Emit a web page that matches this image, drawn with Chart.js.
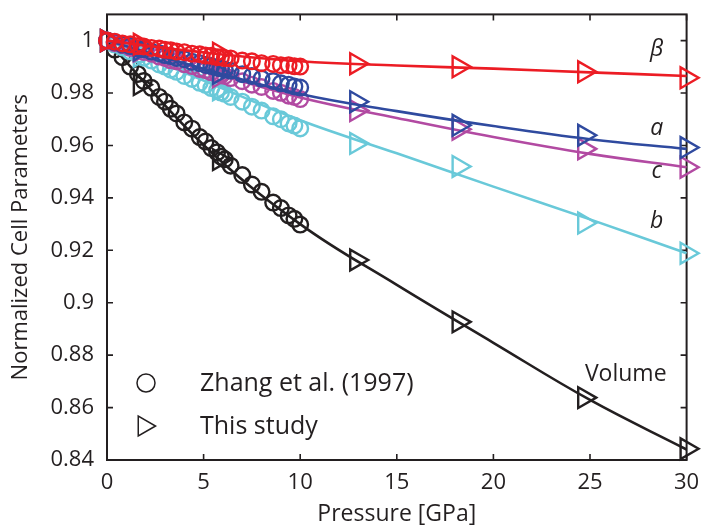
<!DOCTYPE html>
<html><head><meta charset="utf-8">
<script src="https://cdn.jsdelivr.net/npm/chart.js@4.4.1/dist/chart.umd.min.js"></script>
<style>html,body{margin:0;padding:0;background:#fff;}#wrap{width:701px;height:529px;}</style>
</head><body><div id="wrap"><canvas id="c" width="701" height="529"></canvas></div>
<script>
// ---- Data ----
const zhangP = [0, 0.4, 0.8, 1.2, 1.6, 1.9, 2.3, 2.7, 3.0, 3.3, 3.6, 4.0, 4.4, 4.8, 5.1, 5.4, 5.7, 5.9, 6.1, 6.4, 7.0, 7.5, 8.0, 8.6, 9.0, 9.4, 9.7, 10.0];
const zhangBeta = [1.0, 0.9996, 0.9989, 0.9986, 0.9979, 0.9978, 0.9972, 0.9970, 0.9965, 0.9963, 0.9958, 0.9956, 0.9950, 0.9948, 0.9943, 0.9942, 0.9937, 0.9937, 0.9933, 0.9932, 0.9924, 0.9921, 0.9914, 0.9911, 0.9906, 0.9906, 0.9902, 0.9901];
const zhangA    = [1.0, 0.9994, 0.9985, 0.9979, 0.9970, 0.9967, 0.9958, 0.9952, 0.9945, 0.9941, 0.9934, 0.9929, 0.9919, 0.9914, 0.9907, 0.9903, 0.9896, 0.9894, 0.9889, 0.9885, 0.9872, 0.9865, 0.9855, 0.9846, 0.9837, 0.9832, 0.9825, 0.9821];
const zhangC    = [1.0, 0.9990, 0.9983, 0.9972, 0.9965, 0.9957, 0.9950, 0.9939, 0.9934, 0.9925, 0.9921, 0.9910, 0.9903, 0.9892, 0.9887, 0.9879, 0.9874, 0.9868, 0.9865, 0.9857, 0.9845, 0.9832, 0.9823, 0.9808, 0.9801, 0.9790, 0.9785, 0.9777];
const zhangB    = [1.0, 0.9985, 0.9974, 0.9959, 0.9947, 0.9935, 0.9924, 0.9909, 0.9901, 0.9889, 0.9881, 0.9865, 0.9854, 0.9839, 0.9831, 0.9819, 0.9811, 0.9802, 0.9797, 0.9785, 0.9767, 0.9748, 0.9733, 0.9711, 0.9700, 0.9684, 0.9676, 0.9665];
const zhangV    = [1.0, 0.9966, 0.9937, 0.9901, 0.9873, 0.9846, 0.9820, 0.9785, 0.9767, 0.9740, 0.9722, 0.9688, 0.9664, 0.9632, 0.9615, 0.9590, 0.9574, 0.9557, 0.9547, 0.9523, 0.9487, 0.9451, 0.9423, 0.9382, 0.9361, 0.9333, 0.9320, 0.9298];

const studyP    = [0, 1.7, 5.8, 12.9, 18.2, 24.7, 30.0];
const studyBeta = [1.0, 0.9986, 0.9952, 0.9912, 0.9900, 0.9881, 0.9858];
const studyA    = [1.0, 0.9964, 0.9875, 0.9767, 0.9677, 0.9639, 0.9592];
const studyC    = [1.0, 0.9960, 0.9862, 0.9733, 0.9662, 0.9587, 0.9517];
const studyB    = [1.0, 0.9940, 0.9812, 0.9608, 0.9520, 0.9304, 0.9189];
const studyV    = [1.0, 0.9832, 0.9546, 0.9163, 0.8927, 0.8638, 0.8443];

// fitted curves
const fitP    = [0, 5, 10, 15, 20, 25, 30];
const fitBeta = [1.0, 0.9955, 0.9921, 0.9905, 0.9893, 0.9879, 0.9865];
const fitA    = [1.0, 0.9893, 0.9796, 0.9731, 0.9674, 0.9624, 0.9587];
const fitC    = [1.0, 0.9888, 0.9783, 0.9705, 0.9632, 0.9568, 0.9517];
const fitB    = [1.0, 0.9848, 0.9696, 0.9570, 0.9443, 0.9318, 0.9189];
const fitV    = [1.0, 0.9602, 0.9300, 0.9068, 0.8847, 0.8629, 0.8440];

const xTicks = [0, 5, 10, 15, 20, 25, 30];
const yTicks = [0.84, 0.86, 0.88, 0.9, 0.92, 0.94, 0.96, 0.98, 1.0];
const yTickLabels = ['0.84', '0.86', '0.88', '0.9', '0.92', '0.94', '0.96', '0.98', '1'];

const labelNames = ['\u03B2', 'a', 'c', 'b', 'Volume'];
const labelP     = [28.45, 28.45, 28.45, 28.45, 26.85];
const labelVal   = [0.9967, 0.9664, 0.9500, 0.9310, 0.8728];

const legendNames = ['Zhang et al. (1997)', 'This study'];

// ---- Styles ----
const RED = '#ec1c24', BLUE = '#2f4a9f', MAG = '#b24aa2', CYAN = '#69c9d9', BLACK = '#231f20';
const FONT = '"Open Sans", "Noto Sans", sans-serif';
const NONE = 'rgba(0,0,0,0)';

function pts(xs, ys) { return xs.map((x, i) => ({x: x, y: ys[i]})); }
function fit(ys, color) {
  return { data: pts(fitP, ys), showLine: true, borderColor: color, backgroundColor: NONE,
    borderWidth: 2.6, pointRadius: 0, tension: 0.4, clip: false };
}
function study(ys, color) {
  return { data: pts(studyP, ys), showLine: false, borderColor: color, backgroundColor: NONE,
    pointStyle: 'triangle', rotation: 90, pointRadius: 12, pointBorderWidth: 2.4,
    pointBorderColor: color, pointBackgroundColor: NONE, clip: false };
}
function zhang(ys, color) {
  return { data: pts(zhangP, ys), showLine: false, borderColor: color, backgroundColor: NONE,
    pointStyle: 'circle', pointRadius: 7.8, pointBorderWidth: 2.4, pointBorderColor: color,
    pointBackgroundColor: NONE, clip: false };
}

const frame = {
  id: 'frame',
  beforeDatasetsDraw(chart) {
    const {ctx, chartArea: a, scales: {x, y}} = chart;
    ctx.save();
    ctx.strokeStyle = BLACK; ctx.lineWidth = 1.6;
    const tl = 6;
    ctx.beginPath();
    xTicks.forEach(v => { const px = x.getPixelForValue(v);
      ctx.moveTo(px, a.bottom); ctx.lineTo(px, a.bottom - tl);
      ctx.moveTo(px, a.top); ctx.lineTo(px, a.top + tl); });
    yTicks.forEach(v => { const py = y.getPixelForValue(v);
      ctx.moveTo(a.left, py); ctx.lineTo(a.left + tl, py);
      ctx.moveTo(a.right, py); ctx.lineTo(a.right - tl, py); });
    ctx.stroke();
    ctx.lineWidth = 2;
    ctx.strokeRect(a.left, a.top, a.right - a.left, a.bottom - a.top);
    ctx.restore();
  },
  afterDraw(chart) {
    const {ctx, scales: {x, y}} = chart;
    ctx.save();
    ctx.fillStyle = BLACK;
    ctx.textBaseline = 'middle';
    ctx.textAlign = 'center';
    labelNames.forEach((t, i) => {
      ctx.font = (t === 'Volume' ? '23px ' : 'italic 23px ') + FONT;
      ctx.fillText(t, x.getPixelForValue(labelP[i]), y.getPixelForValue(labelVal[i]));
    });
    // legend
    const lx = 146, ly1 = 383, ly2 = 426, tx = 200;
    ctx.strokeStyle = BLACK; ctx.lineWidth = 1.5;
    ctx.beginPath(); ctx.arc(lx, ly1, 9, 0, Math.PI * 2); ctx.stroke();
    ctx.fillStyle = NONE;
    Chart.helpers.drawPoint(ctx, {pointStyle: 'triangle', rotation: 90, radius: 11.5, borderWidth: 1.5}, lx - 2, ly2);
    ctx.fillStyle = BLACK;
    ctx.textAlign = 'left';
    ctx.font = '25px ' + FONT;
    ctx.fillText(legendNames[0], tx, ly1 + 1);
    ctx.fillText(legendNames[1], tx, ly2 + 1);
    ctx.restore();
  }
};

function noPad(s) { s.paddingTop = 0; s.paddingBottom = 0; s.paddingLeft = 0; s.paddingRight = 0; }

new Chart(document.getElementById('c'), {
  type: 'scatter',
  data: { datasets: [
    study(studyBeta, RED), zhang(zhangBeta, RED), fit(fitBeta, RED),
    study(studyA, BLUE), zhang(zhangA, BLUE), fit(fitA, BLUE),
    study(studyC, MAG), zhang(zhangC, MAG), fit(fitC, MAG),
    study(studyB, CYAN), zhang(zhangB, CYAN), fit(fitB, CYAN),
    study(studyV, BLACK), zhang(zhangV, BLACK), fit(fitV, BLACK)
  ]},
  options: {
    responsive: false, animation: false, devicePixelRatio: 1,
    layout: { padding: { top: 7, right: 13, left: 0, bottom: 0 } },
    plugins: { legend: { display: false }, tooltip: { enabled: false } },
    scales: {
      x: { type: 'linear', min: 0, max: 30,
        afterBuildTicks: s => { s.ticks = xTicks.map(v => ({value: v})); },
        afterFit: s => { s.height = 69; noPad(s); },
        grid: { drawOnChartArea: false, drawTicks: false }, border: { display: false },
        ticks: { padding: 10, maxRotation: 0, color: BLACK, font: { size: 22, family: FONT }, callback: (v, i) => String(xTicks[i]) },
        title: { display: true, text: 'Pressure [GPa]', color: BLACK, font: { size: 23, family: FONT }, padding: { top: 1, bottom: 1 } } },
      y: { type: 'linear', min: 0.84, max: 1.01,
        afterBuildTicks: s => { s.ticks = yTicks.map(v => ({value: v})); },
        afterFit: s => { s.width = 107; noPad(s); },
        grid: { drawOnChartArea: false, drawTicks: false }, border: { display: false },
        ticks: { padding: 13, color: BLACK, font: { size: 22, family: FONT }, callback: (v, i) => yTickLabels[i] },
        title: { display: true, text: 'Normalized Cell Parameters', color: BLACK, font: { size: 22, family: FONT }, padding: { top: 8, bottom: 2 } } }
    }
  },
  plugins: [frame]
});
</script></body></html>
